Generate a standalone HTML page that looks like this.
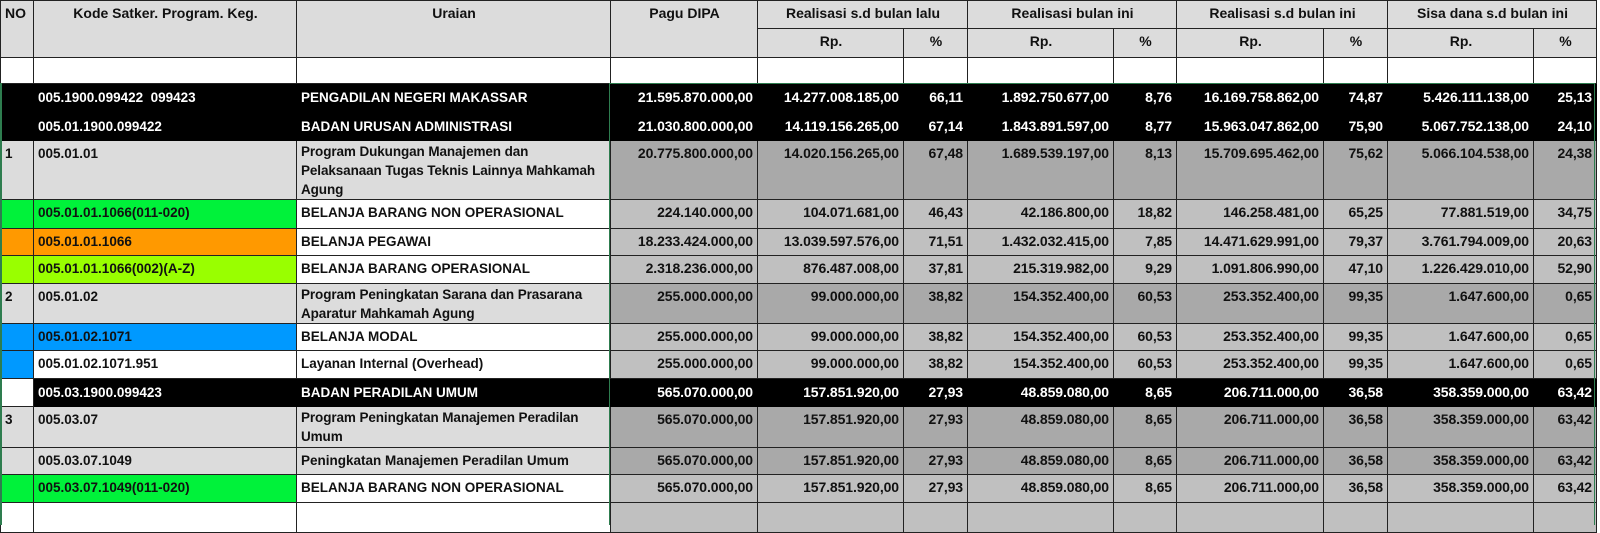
<!DOCTYPE html>
<html><head><meta charset="utf-8"><style>
html,body{margin:0;padding:0;background:#fff;width:1600px;height:525px;overflow:hidden}
table{position:absolute;left:0;top:0;border-collapse:collapse;table-layout:fixed;width:1596px;font-family:"Liberation Sans",sans-serif;font-weight:bold;font-size:13.5px;color:#111}
td{border:1px solid #222;padding:0 3px 0 4px;vertical-align:top;overflow:hidden;white-space:nowrap;line-height:19px;box-sizing:border-box}
td.r{text-align:right;padding-right:4px;font-size:14px;letter-spacing:-0.1px}
td.c{text-align:center}
.h td{background:#dcdcdc;padding-top:3px;font-size:14px}
.bk td{background:#000;color:#fff;border-color:#000;padding-top:4px}
.lg{background:#dcdcdc}
.dk{background:#a9a9a9}
.li{background:#c0c0c0}
.w{background:#fff}
.g{background:#00f23a}
.o{background:#ff9900}
.l{background:#99ff00}
.b{background:#0099ff}
td.wrap{white-space:normal;letter-spacing:-0.1px}
.top td{padding-top:3px}
.top td.wrap{padding-top:1px}
#gl{position:absolute;left:609px;top:83px;width:986px;height:442px;border:1px solid #2e7d4f;border-bottom:none;box-sizing:border-box;pointer-events:none}
#gl2{position:absolute;left:0;top:83px;width:2px;height:442px;background:#2e7d4f}
</style></head><body>
<table>
<colgroup><col style="width:33px"><col style="width:263px"><col style="width:314px"><col style="width:147px"><col style="width:146px"><col style="width:64px"><col style="width:146px"><col style="width:63px"><col style="width:147px"><col style="width:64px"><col style="width:146px"><col style="width:63px"></colgroup>
<tr class="h" style="height:28px"><td rowspan="2">NO</td><td rowspan="2" class="c">Kode Satker. Program. Keg.</td><td rowspan="2" class="c">Uraian</td><td rowspan="2" class="c">Pagu DIPA</td><td colspan="2" class="c">Realisasi s.d bulan lalu</td><td colspan="2" class="c">Realisasi bulan ini</td><td colspan="2" class="c">Realisasi s.d bulan ini</td><td colspan="2" class="c">Sisa dana s.d bulan ini</td></tr>
<tr class="h" style="height:29px"><td class="c">Rp.</td><td class="c">%</td><td class="c">Rp.</td><td class="c">%</td><td class="c">Rp.</td><td class="c">%</td><td class="c">Rp.</td><td class="c">%</td></tr>
<tr style="height:26px"><td></td><td></td><td></td><td></td><td></td><td></td><td></td><td></td><td></td><td></td><td></td><td></td></tr>
<tr class="bk" style="height:29px"><td></td><td>005.1900.099422&nbsp; 099423</td><td>PENGADILAN NEGERI MAKASSAR</td><td class="r">21.595.870.000,00</td><td class="r">14.277.008.185,00</td><td class="r">66,11</td><td class="r">1.892.750.677,00</td><td class="r">8,76</td><td class="r">16.169.758.862,00</td><td class="r">74,87</td><td class="r">5.426.111.138,00</td><td class="r">25,13</td></tr>
<tr class="bk" style="height:28px"><td></td><td>005.01.1900.099422</td><td>BADAN URUSAN ADMINISTRASI</td><td class="r">21.030.800.000,00</td><td class="r">14.119.156.265,00</td><td class="r">67,14</td><td class="r">1.843.891.597,00</td><td class="r">8,77</td><td class="r">15.963.047.862,00</td><td class="r">75,90</td><td class="r">5.067.752.138,00</td><td class="r">24,10</td></tr>
<tr class="top" style="height:59px"><td class="lg">1</td><td class="lg">005.01.01</td><td class="lg wrap">Program Dukungan Manajemen dan<br>Pelaksanaan Tugas Teknis Lainnya Mahkamah<br>Agung</td><td class="r dk">20.775.800.000,00</td><td class="r dk">14.020.156.265,00</td><td class="r dk">67,48</td><td class="r dk">1.689.539.197,00</td><td class="r dk">8,13</td><td class="r dk">15.709.695.462,00</td><td class="r dk">75,62</td><td class="r dk">5.066.104.538,00</td><td class="r dk">24,38</td></tr>
<tr class="top" style="height:29px"><td class="g"></td><td class="g">005.01.01.1066(011-020)</td><td class="w">BELANJA BARANG NON OPERASIONAL</td><td class="r li">224.140.000,00</td><td class="r li">104.071.681,00</td><td class="r li">46,43</td><td class="r li">42.186.800,00</td><td class="r li">18,82</td><td class="r li">146.258.481,00</td><td class="r li">65,25</td><td class="r li">77.881.519,00</td><td class="r li">34,75</td></tr>
<tr class="top" style="height:27px"><td class="o"></td><td class="o">005.01.01.1066</td><td class="w">BELANJA PEGAWAI</td><td class="r li">18.233.424.000,00</td><td class="r li">13.039.597.576,00</td><td class="r li">71,51</td><td class="r li">1.432.032.415,00</td><td class="r li">7,85</td><td class="r li">14.471.629.991,00</td><td class="r li">79,37</td><td class="r li">3.761.794.009,00</td><td class="r li">20,63</td></tr>
<tr class="top" style="height:28px"><td class="l"></td><td class="l">005.01.01.1066(002)(A-Z)</td><td class="w">BELANJA BARANG OPERASIONAL</td><td class="r li">2.318.236.000,00</td><td class="r li">876.487.008,00</td><td class="r li">37,81</td><td class="r li">215.319.982,00</td><td class="r li">9,29</td><td class="r li">1.091.806.990,00</td><td class="r li">47,10</td><td class="r li">1.226.429.010,00</td><td class="r li">52,90</td></tr>
<tr class="top" style="height:40px"><td class="lg">2</td><td class="lg">005.01.02</td><td class="lg wrap">Program Peningkatan Sarana dan Prasarana<br>Aparatur Mahkamah Agung</td><td class="r dk">255.000.000,00</td><td class="r dk">99.000.000,00</td><td class="r dk">38,82</td><td class="r dk">154.352.400,00</td><td class="r dk">60,53</td><td class="r dk">253.352.400,00</td><td class="r dk">99,35</td><td class="r dk">1.647.600,00</td><td class="r dk">0,65</td></tr>
<tr class="top" style="height:27px"><td class="b"></td><td class="b">005.01.02.1071</td><td class="w">BELANJA MODAL</td><td class="r li">255.000.000,00</td><td class="r li">99.000.000,00</td><td class="r li">38,82</td><td class="r li">154.352.400,00</td><td class="r li">60,53</td><td class="r li">253.352.400,00</td><td class="r li">99,35</td><td class="r li">1.647.600,00</td><td class="r li">0,65</td></tr>
<tr class="top" style="height:28px"><td class="b"></td><td class="w">005.01.02.1071.951</td><td class="w">Layanan Internal (Overhead)</td><td class="r li">255.000.000,00</td><td class="r li">99.000.000,00</td><td class="r li">38,82</td><td class="r li">154.352.400,00</td><td class="r li">60,53</td><td class="r li">253.352.400,00</td><td class="r li">99,35</td><td class="r li">1.647.600,00</td><td class="r li">0,65</td></tr>
<tr class="bk" style="height:28px"><td style="background:#fff;border-color:#222"></td><td>005.03.1900.099423</td><td>BADAN PERADILAN UMUM</td><td class="r">565.070.000,00</td><td class="r">157.851.920,00</td><td class="r">27,93</td><td class="r">48.859.080,00</td><td class="r">8,65</td><td class="r">206.711.000,00</td><td class="r">36,58</td><td class="r">358.359.000,00</td><td class="r">63,42</td></tr>
<tr class="top" style="height:41px"><td class="lg">3</td><td class="lg">005.03.07</td><td class="lg wrap">Program Peningkatan Manajemen Peradilan<br>Umum</td><td class="r dk">565.070.000,00</td><td class="r dk">157.851.920,00</td><td class="r dk">27,93</td><td class="r dk">48.859.080,00</td><td class="r dk">8,65</td><td class="r dk">206.711.000,00</td><td class="r dk">36,58</td><td class="r dk">358.359.000,00</td><td class="r dk">63,42</td></tr>
<tr class="top" style="height:27px"><td class="lg"></td><td class="lg">005.03.07.1049</td><td class="lg">Peningkatan Manajemen Peradilan Umum</td><td class="r dk">565.070.000,00</td><td class="r dk">157.851.920,00</td><td class="r dk">27,93</td><td class="r dk">48.859.080,00</td><td class="r dk">8,65</td><td class="r dk">206.711.000,00</td><td class="r dk">36,58</td><td class="r dk">358.359.000,00</td><td class="r dk">63,42</td></tr>
<tr class="top" style="height:28px"><td class="g"></td><td class="g">005.03.07.1049(011-020)</td><td class="w">BELANJA BARANG NON OPERASIONAL</td><td class="r li">565.070.000,00</td><td class="r li">157.851.920,00</td><td class="r li">27,93</td><td class="r li">48.859.080,00</td><td class="r li">8,65</td><td class="r li">206.711.000,00</td><td class="r li">36,58</td><td class="r li">358.359.000,00</td><td class="r li">63,42</td></tr>
<tr style="height:30px"><td class="w"></td><td class="w"></td><td class="w"></td><td class="li"></td><td class="li"></td><td class="li"></td><td class="li"></td><td class="li"></td><td class="li"></td><td class="li"></td><td class="li"></td><td class="li"></td></tr>
</table>
<div id="gl"></div><div id="gl2"></div>
</body></html>
